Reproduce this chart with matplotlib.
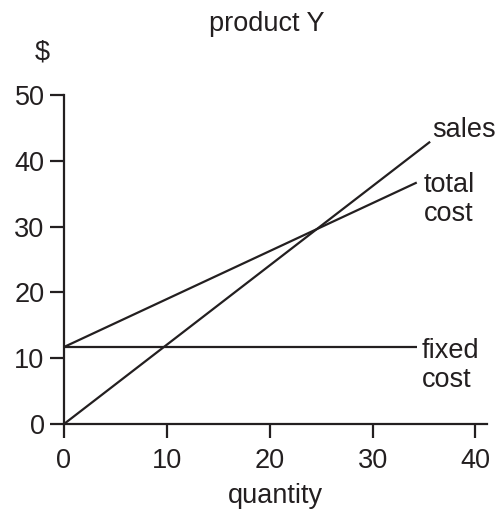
import matplotlib
matplotlib.use("Agg")
import matplotlib.pyplot as plt

plt.rcParams["font.family"] = ["Liberation Sans", "DejaVu Sans"]

# break-even chart data
sales_q = [0, 35.6]
sales_v = [0, 42.9]
total_q = [0, 34.3]
total_v = [11.7, 36.7]
fixed_q = [0, 34.3]
fixed_v = [11.7, 11.7]

x_ticks = [0, 10, 20, 30, 40]
y_ticks = [0, 10, 20, 30, 40, 50]

W, H = 502, 513
fig = plt.figure(figsize=(W / 100, H / 100), dpi=100)
ax = fig.add_axes([64 / W, 1 - 424 / H, (486.7 - 64) / W, (424 - 95) / H])

ink = "#231f20"
lw = 1.6
fs = 19.5

ax.plot(sales_q, sales_v, color=ink, lw=lw, solid_capstyle="butt")
ax.plot(total_q, total_v, color=ink, lw=lw, solid_capstyle="butt")
ax.plot(fixed_q, fixed_v, color=ink, lw=lw, solid_capstyle="butt")

ax.set_xlim(0, 41.1)
ax.set_ylim(0, 50)
ax.set_xticks(x_ticks)
ax.set_yticks(y_ticks)
for s in ["top", "right"]:
    ax.spines[s].set_visible(False)
for s in ["left", "bottom"]:
    ax.spines[s].set_linewidth(lw)
    ax.spines[s].set_color(ink)
ax.tick_params(length=10, width=lw, color=ink, labelsize=fs, labelcolor=ink)
ax.tick_params(axis="x", pad=7)
ax.tick_params(axis="y", pad=4)
for lab in ax.get_xticklabels() + ax.get_yticklabels():
    lab.set_clip_on(False)
ax.patch.set_visible(False)

ax.text(35.8, 43.6, "sales", fontsize=fs, color=ink, ha="left", va="baseline", clip_on=False)
ax.text(35.0, 35.3, "total", fontsize=fs, color=ink, ha="left", va="baseline", clip_on=False)
ax.text(35.0, 30.8, "cost", fontsize=fs, color=ink, ha="left", va="baseline", clip_on=False)
ax.text(34.8, 10.0, "fixed", fontsize=fs, color=ink, ha="left", va="baseline", clip_on=False)
ax.text(34.8, 5.6, "cost", fontsize=fs, color=ink, ha="left", va="baseline", clip_on=False)

fig.text(266.7 / W, 1 - 31 / H, "product Y", fontsize=fs, color=ink, ha="center", va="baseline")
fig.text(42 / W, 1 - 60 / H, "$", fontsize=fs, color=ink, ha="center", va="baseline")
fig.text(275 / W, 1 - 503 / H, "quantity", fontsize=fs, color=ink, ha="center", va="baseline")

fig.savefig("out.png", dpi=100)
